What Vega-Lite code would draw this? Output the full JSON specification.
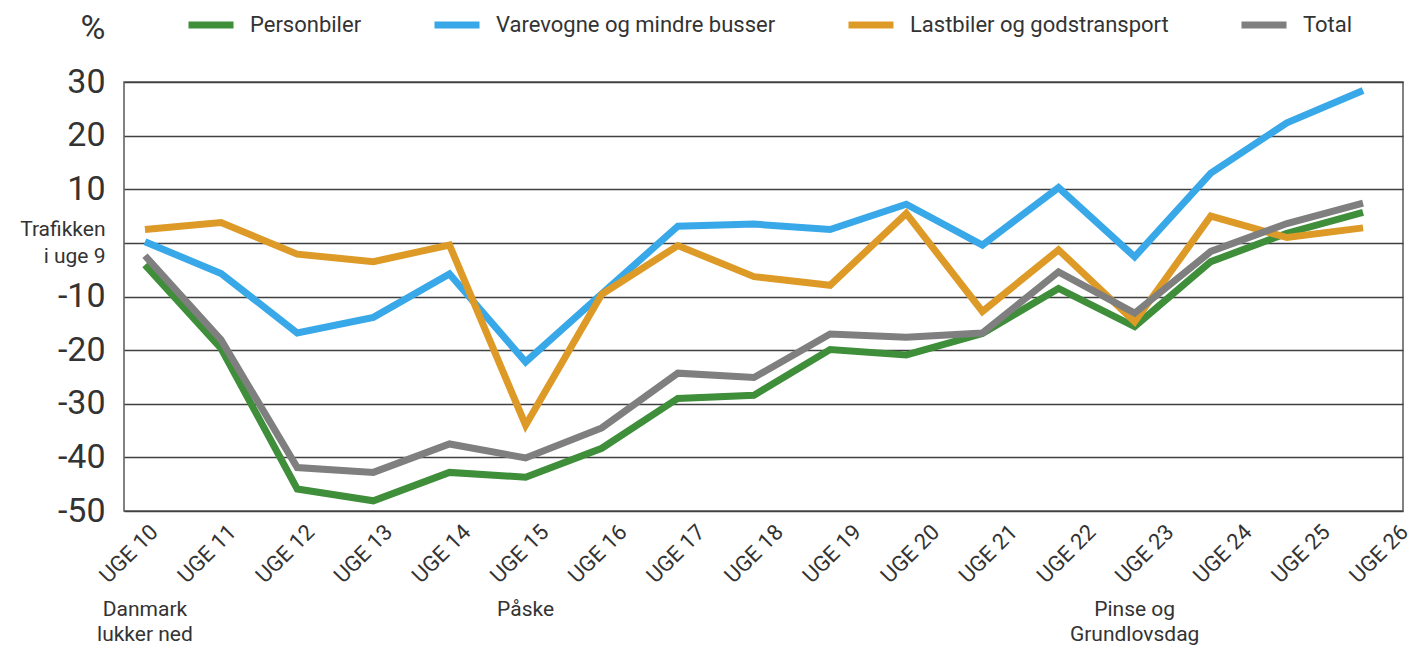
{
  "$schema": "https://vega.github.io/schema/vega-lite/v6.json",
  "width": 1279,
  "height": 429,
  "autosize": "none",
  "padding": {"left": 124, "top": 82, "right": 9, "bottom": 138},
  "config": {
    "font": "Roboto",
    "view": {"stroke": "#5a5a5a", "strokeWidth": 1.5},
    "axis": {"labelColor": "#333333", "titleColor": "#333333"}
  },
  "datasets": {
    "traffic": [
      {"week": "UGE 10", "series": "Personbiler", "value": -4.1},
      {"week": "UGE 11", "series": "Personbiler", "value": -19.7},
      {"week": "UGE 12", "series": "Personbiler", "value": -45.9},
      {"week": "UGE 13", "series": "Personbiler", "value": -48.1},
      {"week": "UGE 14", "series": "Personbiler", "value": -42.8},
      {"week": "UGE 15", "series": "Personbiler", "value": -43.7},
      {"week": "UGE 16", "series": "Personbiler", "value": -38.3},
      {"week": "UGE 17", "series": "Personbiler", "value": -29.0},
      {"week": "UGE 18", "series": "Personbiler", "value": -28.4},
      {"week": "UGE 19", "series": "Personbiler", "value": -19.9},
      {"week": "UGE 20", "series": "Personbiler", "value": -20.9},
      {"week": "UGE 21", "series": "Personbiler", "value": -16.9},
      {"week": "UGE 22", "series": "Personbiler", "value": -8.5},
      {"week": "UGE 23", "series": "Personbiler", "value": -15.6},
      {"week": "UGE 24", "series": "Personbiler", "value": -3.5},
      {"week": "UGE 25", "series": "Personbiler", "value": 1.8},
      {"week": "UGE 26", "series": "Personbiler", "value": 5.7},
      {"week": "UGE 10", "series": "Varevogne og mindre busser", "value": 0.2},
      {"week": "UGE 11", "series": "Varevogne og mindre busser", "value": -5.7},
      {"week": "UGE 12", "series": "Varevogne og mindre busser", "value": -16.8},
      {"week": "UGE 13", "series": "Varevogne og mindre busser", "value": -13.9},
      {"week": "UGE 14", "series": "Varevogne og mindre busser", "value": -5.8},
      {"week": "UGE 15", "series": "Varevogne og mindre busser", "value": -22.2},
      {"week": "UGE 16", "series": "Varevogne og mindre busser", "value": -9.5},
      {"week": "UGE 17", "series": "Varevogne og mindre busser", "value": 3.1},
      {"week": "UGE 18", "series": "Varevogne og mindre busser", "value": 3.5},
      {"week": "UGE 19", "series": "Varevogne og mindre busser", "value": 2.5},
      {"week": "UGE 20", "series": "Varevogne og mindre busser", "value": 7.2},
      {"week": "UGE 21", "series": "Varevogne og mindre busser", "value": -0.4},
      {"week": "UGE 22", "series": "Varevogne og mindre busser", "value": 10.3},
      {"week": "UGE 23", "series": "Varevogne og mindre busser", "value": -2.6},
      {"week": "UGE 24", "series": "Varevogne og mindre busser", "value": 13.0},
      {"week": "UGE 25", "series": "Varevogne og mindre busser", "value": 22.4},
      {"week": "UGE 26", "series": "Varevogne og mindre busser", "value": 28.4},
      {"week": "UGE 10", "series": "Lastbiler og godstransport", "value": 2.5},
      {"week": "UGE 11", "series": "Lastbiler og godstransport", "value": 3.8},
      {"week": "UGE 12", "series": "Lastbiler og godstransport", "value": -2.1},
      {"week": "UGE 13", "series": "Lastbiler og godstransport", "value": -3.5},
      {"week": "UGE 14", "series": "Lastbiler og godstransport", "value": -0.4},
      {"week": "UGE 15", "series": "Lastbiler og godstransport", "value": -34.0},
      {"week": "UGE 16", "series": "Lastbiler og godstransport", "value": -9.6},
      {"week": "UGE 17", "series": "Lastbiler og godstransport", "value": -0.5},
      {"week": "UGE 18", "series": "Lastbiler og godstransport", "value": -6.3},
      {"week": "UGE 19", "series": "Lastbiler og godstransport", "value": -7.9},
      {"week": "UGE 20", "series": "Lastbiler og godstransport", "value": 5.5},
      {"week": "UGE 21", "series": "Lastbiler og godstransport", "value": -12.8},
      {"week": "UGE 22", "series": "Lastbiler og godstransport", "value": -1.3},
      {"week": "UGE 23", "series": "Lastbiler og godstransport", "value": -14.7},
      {"week": "UGE 24", "series": "Lastbiler og godstransport", "value": 5.0},
      {"week": "UGE 25", "series": "Lastbiler og godstransport", "value": 1.0},
      {"week": "UGE 26", "series": "Lastbiler og godstransport", "value": 2.8},
      {"week": "UGE 10", "series": "Total", "value": -2.4},
      {"week": "UGE 11", "series": "Total", "value": -18.1},
      {"week": "UGE 12", "series": "Total", "value": -41.9},
      {"week": "UGE 13", "series": "Total", "value": -42.8},
      {"week": "UGE 14", "series": "Total", "value": -37.5},
      {"week": "UGE 15", "series": "Total", "value": -40.1},
      {"week": "UGE 16", "series": "Total", "value": -34.5},
      {"week": "UGE 17", "series": "Total", "value": -24.3},
      {"week": "UGE 18", "series": "Total", "value": -25.1},
      {"week": "UGE 19", "series": "Total", "value": -17.0},
      {"week": "UGE 20", "series": "Total", "value": -17.6},
      {"week": "UGE 21", "series": "Total", "value": -16.8},
      {"week": "UGE 22", "series": "Total", "value": -5.4},
      {"week": "UGE 23", "series": "Total", "value": -13.1},
      {"week": "UGE 24", "series": "Total", "value": -1.6},
      {"week": "UGE 25", "series": "Total", "value": 3.6},
      {"week": "UGE 26", "series": "Total", "value": 7.4}
    ],
    "notes": [
      {"week": "UGE 10", "note": "Danmark\nlukker ned"},
      {"week": "UGE 15", "note": "Påske"},
      {"week": "UGE 23", "note": "Pinse og\nGrundlovsdag"}
    ]
  },
  "layer": [
    {
      "data": {"name": "traffic"},
      "mark": {"type": "point", "opacity": 0},
      "encoding": {
        "x": {
          "field": "week",
          "type": "ordinal",
          "scale": {"type": "point", "padding": 0.185, "align": 0.966},
          "axis": {
            "title": null,
            "labelAngle": -45,
            "labelAlign": "right",
            "labelBaseline": "middle",
            "labelFontSize": 22,
            "labelPadding": 17,
            "labelOffset": 2,
            "labelOverlap": false,
            "labelBound": false,
            "ticks": false,
            "domain": false,
            "grid": false
          }
        }
      }
    },
    {
      "layer": [
        {
          "data": {"name": "traffic"},
          "mark": {"type": "line", "strokeWidth": 7, "strokeJoin": "miter", "strokeCap": "butt"},
          "encoding": {
            "x": {
              "field": "week",
              "type": "ordinal",
              "scale": {"type": "point", "padding": 0.4, "align": 0.344},
              "axis": null
            },
            "y": {
              "field": "value",
              "type": "quantitative",
              "scale": {"domain": [-50, 30], "nice": false},
              "axis": {
                "values": [-50, -40, -30, -20, -10, 0, 10, 20, 30],
                "title": "%",
                "titleAngle": 0,
                "titleAlign": "right",
                "titleBaseline": "middle",
                "titleX": -19,
                "titleY": -54,
                "titleFontSize": 34,
                "titleFontWeight": "normal",
                "labelExpr": "datum.value === 0 ? ['Trafikken', 'i uge 9'] : '' + datum.value",
                "labelFontSize": {"condition": {"test": "datum.value === 0", "value": 21}, "value": 34},
                "labelOffset": {"condition": {"test": "datum.value === 0", "value": -13}, "value": 0},
                "labelLineHeight": 27,
                "labelPadding": 19,
                "labelBaseline": "middle",
                "labelOverlap": false,
                "labelBound": false,
                "ticks": false,
                "domain": false,
                "grid": true,
                "gridColor": "#404040",
                "gridWidth": 1.5
              }
            },
            "color": {
              "field": "series",
              "type": "nominal",
              "scale": {
                "domain": ["Personbiler", "Varevogne og mindre busser", "Lastbiler og godstransport", "Total"],
                "range": ["#3e8e3a", "#38a8e8", "#dd9a26", "#7f7f7f"]
              },
              "legend": {
                "title": null,
                "orient": "none",
                "direction": "horizontal",
                "legendX": 61,
                "legendY": -83,
                "symbolType": "stroke",
                "symbolStrokeWidth": 7,
                "symbolSize": 2025,
                "labelFontSize": 22,
                "labelLimit": 0,
                "labelColor": "#333333",
                "labelOffset": 13,
                "columnPadding": 58
              }
            }
          }
        },
        {
          "data": {"name": "notes"},
          "mark": {"type": "text", "baseline": "top", "align": "center", "fontSize": 21, "color": "#333333", "lineBreak": "\n", "lineHeight": 25, "dy": 88},
          "encoding": {
            "x": {"field": "week", "type": "ordinal"},
            "y": {"datum": -50, "type": "quantitative"},
            "text": {"field": "note"}
          }
        }
      ]
    }
  ],
  "resolve": {"scale": {"x": "independent"}}
}
